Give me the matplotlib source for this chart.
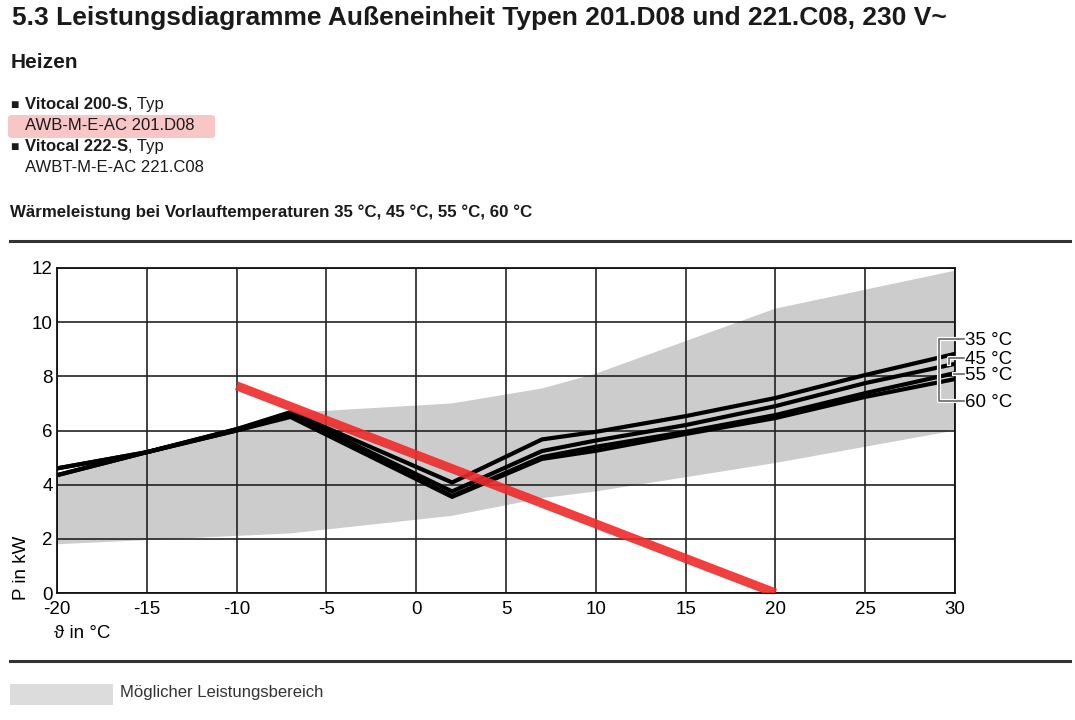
import matplotlib
matplotlib.use("Agg")
import matplotlib.pyplot as plt
import matplotlib.patheffects as pe
from matplotlib.patches import FancyBboxPatch, Rectangle
from matplotlib.lines import Line2D

plt.rcParams['font.family'] = ['Liberation Sans', 'DejaVu Sans']
plt.rcParams['axes.unicode_minus'] = False

# Leistungskurven (Außentemperatur in °C -> Wärmeleistung in kW)
temp_x = [-20, -15, -10, -7, 2, 7, 10, 15, 20, 25, 30]
p_35 = [4.6, 5.2, 6.05, 6.68, 4.08, 5.67, 5.95, 6.53, 7.2, 8.05, 8.83]
p_45 = [4.6, 5.2, 6.05, 6.62, 3.75, 5.24, 5.63, 6.2, 6.9, 7.75, 8.46]
p_55 = [4.35, 5.2, 6.0, 6.55, 3.58, 5.02, 5.4, 5.95, 6.57, 7.38, 8.12]
p_60 = [4.35, 5.2, 6.0, 6.5, 3.55, 4.95, 5.25, 5.87, 6.46, 7.24, 7.9]
curve_labels = ['35 °C', '45 °C', '55 °C', '60 °C']

# möglicher Leistungsbereich
band_upper_x = [-20, -15, -10, -7, 2, 7, 10, 15, 20, 25, 30]
band_upper_y = [4.35, 5.2, 6.0, 6.65, 7.0, 7.55, 8.1, 9.3, 10.5, 11.2, 11.9]
band_lower_x = [-20, -7, 2, 7, 10, 20, 30]
band_lower_y = [1.8, 2.2, 2.85, 3.5, 3.75, 4.8, 6.0]

# Heizlastgerade
load_x = [-10, 20]
load_y = [7.65, 0]

xticks = [-20, -15, -10, -5, 0, 5, 10, 15, 20, 25, 30]
yticks = [0, 2, 4, 6, 8, 10, 12]

W, H = 1075, 720
fig = plt.figure(figsize=(W / 100, H / 100), dpi=100)
renderer = fig.canvas.get_renderer()
txt = '#1a1a1a'

def fx(px):
    return px / W

def fy(py):
    return 1 - py / H

# Kopftexte
fig.text(fx(12), fy(18), "5.3 Leistungsdiagramme Außeneinheit Typen 201.D08 und 221.C08, 230 V~",
         fontsize=19, fontweight='bold', va='center', ha='left', color=txt)
fig.text(fx(11), fy(62), "Heizen", fontsize=15, fontweight='bold', va='center', color=txt)

fig.patches.append(FancyBboxPatch((fx(8), fy(138)), 207 / W, 23 / H,
                                  boxstyle="round,pad=0,rounding_size=0.004",
                                  transform=fig.transFigure, facecolor='#f9c6c6',
                                  edgecolor='none', zorder=0))

for y, name, typ in [(109, "Vitocal 200-S", "AWB-M-E-AC 201.D08"),
                     (151, "Vitocal 222-S", "AWBT-M-E-AC 221.C08")]:
    fig.text(fx(10), fy(y), "■", fontsize=10, va='baseline', color=txt)
    t = fig.text(fx(25), fy(y), name, fontsize=12, fontweight='bold', va='baseline', color=txt)
    x1 = t.get_window_extent(renderer).x1
    fig.text(x1 / W, fy(y), ", Typ", fontsize=12, va='baseline', color=txt)
    fig.text(fx(25), fy(y + 21), typ, fontsize=12, va='baseline', color=txt)

fig.text(fx(10), fy(217), "Wärmeleistung bei Vorlauftemperaturen 35 °C, 45 °C, 55 °C, 60 °C",
         fontsize=12.2, fontweight='bold', va='baseline', color=txt)

for yy in (241, 661):
    fig.add_artist(Line2D([fx(10), fx(1070)], [fy(yy), fy(yy)],
                          transform=fig.transFigure, color='#333333', lw=2.2))

# Legende unten
fig.patches.append(Rectangle((fx(10), fy(705)), 103 / W, 21 / H,
                             transform=fig.transFigure, facecolor='#dcdcdc', edgecolor='none'))
fig.text(fx(120), fy(693), "Möglicher Leistungsbereich", fontsize=12, va='center', color='#333333')

ax = fig.add_axes([fx(57), fy(593), 898 / W, 325 / H])
ax.set_xlim(-20, 30)
ax.set_ylim(0, 12)
ax.set_xticks(xticks)
ax.set_yticks(yticks)
ax.tick_params(length=0, labelsize=13.5)
ax.tick_params(axis='x', pad=6)
ax.tick_params(axis='y', pad=3)
for lab in ax.get_yticklabels():
    lab.set_verticalalignment('center_baseline')
ax.grid(True, color='#222222', lw=1.2)
ax.set_axisbelow(True)
for s in ax.spines.values():
    s.set_color('#111111')
    s.set_linewidth(1.3)

poly_x = band_upper_x + band_lower_x[::-1]
poly_y = band_upper_y + band_lower_y[::-1]
ax.fill(poly_x, poly_y, color='#cccccc', lw=0, zorder=0.5)

for p in (p_60, p_55, p_45, p_35):
    ax.plot(temp_x, p, color='black', lw=3, solid_joinstyle='miter', zorder=3)

ax.plot(load_x, load_y, color='#ee2a2a', lw=6.5, alpha=0.9, solid_capstyle='butt', zorder=4)

# Beschriftung der Kurven mit Klammern
halo = [pe.withStroke(linewidth=3, foreground='white')]
lc = '#666666'
ends = [p_35[-1], p_45[-1], p_55[-1], p_60[-1]]
bracket_y = [9.38, 8.68, 8.09, 7.09]
for lab, by in zip(curve_labels, bracket_y):
    ax.text(30.55, by - 0.07, lab, fontsize=13.5, va='center', ha='left', clip_on=False)
kw = dict(color=lc, lw=1.2, clip_on=False, path_effects=halo, zorder=5)
ax.plot([30.5, 29.1, 29.1, 30.5], [bracket_y[0], bracket_y[0], bracket_y[3], bracket_y[3]], **kw)
ax.plot([29.65, 29.65, 30.5], [ends[1], bracket_y[1], bracket_y[1]], **kw)
ax.plot([29.95, 30.5], [bracket_y[2], bracket_y[2]], **kw)

fig.text(fx(22), fy(600), "P in kW", rotation=90, fontsize=13.5, va='bottom', ha='center')
fig.text(fx(54), fy(634), "ϑ in °C", fontsize=13.5, va='center', ha='left')

fig.savefig("out.png", dpi=100)
